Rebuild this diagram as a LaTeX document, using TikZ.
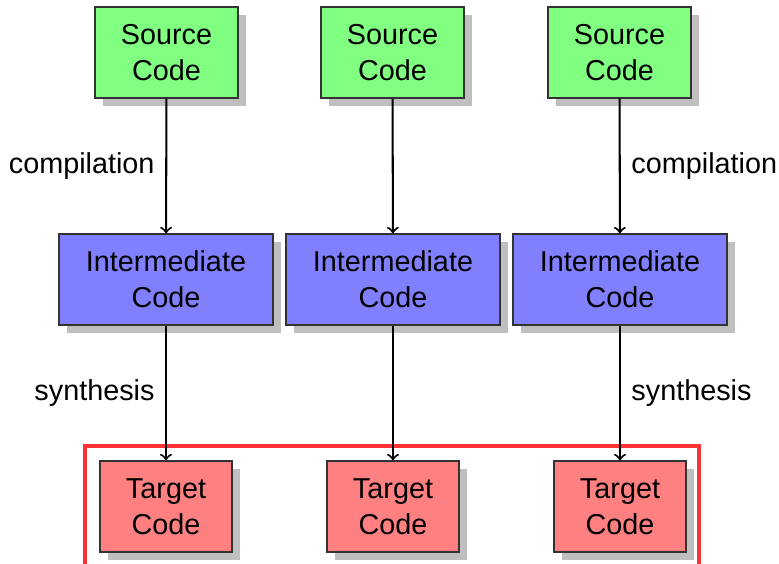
\documentclass[tikz,border=0pt]{standalone}
\usepackage{fontspec}
\setmainfont{Liberation Sans}
\usetikzlibrary{shadows}
\tikzset{
  box/.style={draw=black!80, line width=0.5pt, align=center, inner sep=0pt,
    minimum height=37.9pt, font=\fontsize{12}{15}\selectfont,
    drop shadow={shadow xshift=3.3pt, shadow yshift=-3.3pt, fill=black!25, opacity=1}},
  srcbox/.style={box, fill=green!50, minimum width=59.6pt},
  midbox/.style={box, fill=blue!50, minimum width=89.2pt},
  tgtbox/.style={box, fill=red!50, minimum width=55pt},
  flow/.style={->, line width=0.85pt},
  lbl/.style={font=\fontsize{12}{15}\selectfont, inner sep=0pt}
}
\begin{document}
\begin{tikzpicture}[x=0.4167pt, y=-0.4167pt]
\useasboundingbox (0,0) rectangle (779,564);
\clip (0,0) rectangle (779,564);
\node[srcbox] (s1) at (166.5,52.5) {Source\\Code};
\node[srcbox] (s2) at (392.5,52.5) {Source\\Code};
\node[srcbox] (s3) at (619.5,52.5) {Source\\Code};
\node[midbox] (m1) at (166,279.5) {Intermediate\\Code};
\node[midbox] (m2) at (393,279.5) {Intermediate\\Code};
\node[midbox] (m3) at (620,279.5) {Intermediate\\Code};
\node[tgtbox] (t1) at (166,506.5) {Target\\Code};
\node[tgtbox] (t2) at (393,506.5) {Target\\Code};
\node[tgtbox] (t3) at (620,506.5) {Target\\Code};
\draw[red!80, line width=1.3pt] (85,600) -- (85,446) -- (699,446) -- (699,600);
\draw[flow] (s1) -- (m1);
\draw[flow] (s2) -- (m2);
\draw[flow] (s3) -- (m3);
\draw[flow] (m1) -- (t1);
\draw[flow] (m2) -- (t2);
\draw[flow] (m3) -- (t3);
\node[lbl, anchor=east] (c1) at (155,166) {compilation};
\node[lbl, anchor=west] (c3) at (631,166) {compilation};
\node[lbl, anchor=east] (y1) at (155,393) {synthesis};
\node[lbl, anchor=west] (y3) at (631,393) {synthesis};
\end{tikzpicture}
\end{document}
